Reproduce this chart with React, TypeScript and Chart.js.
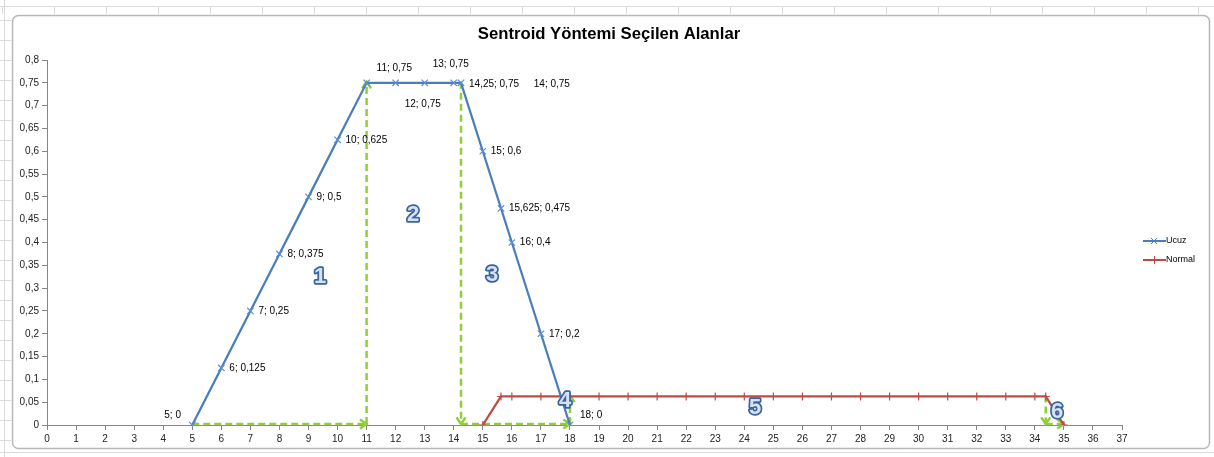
import React, { useEffect, useRef } from "react";
import { Chart, registerables } from "chart.js";

Chart.register(...registerables);

// ---- data ----
const chartTitle = "Sentroid Yöntemi Seçilen Alanlar";
const seriesNames = ["Ucuz", "Normal"];

const ucuzX = [5, 6, 7, 8, 9, 10, 11, 12, 13, 14, 14.25, 15, 15.625, 16, 17, 18];
const ucuzY = [0, 0.125, 0.25, 0.375, 0.5, 0.625, 0.75, 0.75, 0.75, 0.75, 0.75, 0.6, 0.475, 0.4, 0.2, 0];

const normalX = [15, 15.625, 16, 17, 18, 19, 20, 21, 22, 23, 24, 25, 26, 27, 28, 29, 30, 31, 32, 33, 34, 34.375, 35];
const normalY = [0, 0.0625, 0.0625, 0.0625, 0.0625, 0.0625, 0.0625, 0.0625, 0.0625, 0.0625, 0.0625, 0.0625, 0.0625, 0.0625, 0.0625, 0.0625, 0.0625, 0.0625, 0.0625, 0.0625, 0.0625, 0.0625, 0];

const xMin = 0;
const xMax = 37;
const xStep = 1;
const yMin = 0;
const yMax = 0.8;
const yStep = 0.05;

// area arrows: [fromX, fromY, toX, toY]
const areaArrows = [
  [5, 0, 11, 0],
  [11, 0, 11, 0.75],
  [14.25, 0.75, 14.25, 0],
  [14.25, 0, 18, 0],
  [18, 0, 18, 0.0625],
  [34.375, 0.0625, 34.375, 0],
  [34.375, 0, 35, 0],
];

// numbered areas: label, x, y (data units)
const areaNames = ["1", "2", "3", "4", "5", "6"];
const areaNameX = [9.4, 12.6, 15.32, 17.83, 24.37, 34.77];
const areaNameY = [0.325, 0.46, 0.33, 0.052, 0.037, 0.028];

// label placement (pixel offsets from point) for Ucuz data labels, by index
const labelOffsets: Record<number, [number, number]> = {
  0: [-28, -10],
  6: [10, -15],
  7: [9, 21],
  8: [8, -19],
  9: [80, 1],
  10: [8, 1],
  15: [10, -10],
};

const fmt = (v: number) => String(+v.toFixed(3)).replace(".", ",");

const BLUE = "#4A7EBB";
const RED = "#BE4B48";
const GREEN = "#8fcf3c";
const FONT = '"Liberation Sans", Arial, sans-serif';

function drawArrow(ctx: CanvasRenderingContext2D, x1: number, y1: number, x2: number, y2: number) {
  ctx.save();
  ctx.strokeStyle = GREEN;
  ctx.lineWidth = 2.5;
  ctx.setLineDash([7, 4]);
  ctx.beginPath();
  ctx.moveTo(x1, y1);
  ctx.lineTo(x2, y2);
  ctx.stroke();
  ctx.setLineDash([]);
  const a = Math.atan2(y2 - y1, x2 - x1);
  const s = 8;
  ctx.beginPath();
  ctx.moveTo(x2 - s * Math.cos(a - 0.6), y2 - s * Math.sin(a - 0.6));
  ctx.lineTo(x2, y2);
  ctx.lineTo(x2 - s * Math.cos(a + 0.6), y2 - s * Math.sin(a + 0.6));
  ctx.stroke();
  ctx.restore();
}

const decorPlugin = {
  id: "decor",
  beforeDraw(chart: any) {
    const ctx: CanvasRenderingContext2D = chart.ctx;
    const W = chart.width;
    const H = chart.height;
    ctx.save();
    ctx.fillStyle = "#ffffff";
    ctx.fillRect(0, 0, W, H);
    // spreadsheet cell lines outside the chart frame
    ctx.strokeStyle = "#dcdcdc";
    ctx.lineWidth = 1;
    ctx.beginPath();
    ctx.moveTo(0, 6.5);
    ctx.lineTo(W, 6.5);
    for (let x = 2; x < W; x += 52) {
      ctx.moveTo(x + 0.5, 6);
      ctx.lineTo(x + 0.5, 14);
    }
    ctx.moveTo(4.5, 0);
    ctx.lineTo(4.5, H);
    for (let y = 20; y < H; y += 20) {
      ctx.moveTo(0, y + 0.5);
      ctx.lineTo(11, y + 0.5);
    }
    ctx.moveTo(0, 452.5);
    ctx.lineTo(W, 452.5);
    ctx.stroke();
    // chart frame
    ctx.strokeStyle = "#b8b8b8";
    ctx.lineWidth = 1.5;
    const x0 = 12.5, y0 = 15.5, x1 = 1209.5, y1 = 448.5, r = 6;
    ctx.beginPath();
    ctx.moveTo(x0 + r, y0);
    ctx.lineTo(x1 - r, y0);
    ctx.arcTo(x1, y0, x1, y0 + r, r);
    ctx.lineTo(x1, y1 - r);
    ctx.arcTo(x1, y1, x1 - r, y1, r);
    ctx.lineTo(x0 + r, y1);
    ctx.arcTo(x0, y1, x0, y1 - r, r);
    ctx.lineTo(x0, y0 + r);
    ctx.arcTo(x0, y0, x0 + r, y0, r);
    ctx.closePath();
    ctx.stroke();
    // title
    ctx.fillStyle = "#000";
    ctx.font = `bold 16.7px ${FONT}`;
    ctx.textAlign = "center";
    ctx.textBaseline = "middle";
    ctx.fillText(chartTitle, 609, 34);
    ctx.restore();
  },
  beforeDatasetsDraw(chart: any) {
    const ctx: CanvasRenderingContext2D = chart.ctx;
    const xs = chart.scales.x;
    const ys = chart.scales.y;
    areaArrows.forEach(([ax, ay, bx, by]) => {
      drawArrow(ctx, xs.getPixelForValue(ax), ys.getPixelForValue(ay) - 1, xs.getPixelForValue(bx), ys.getPixelForValue(by) - 1);
    });
  },
  afterDatasetsDraw(chart: any) {
    const ctx: CanvasRenderingContext2D = chart.ctx;
    const xs = chart.scales.x;
    const ys = chart.scales.y;
    ctx.save();
    // data labels for Ucuz
    const meta = chart.getDatasetMeta(0);
    ctx.font = `10px ${FONT}`;
    ctx.fillStyle = "#000";
    ctx.textAlign = "left";
    ctx.textBaseline = "middle";
    meta.data.forEach((pt: any, i: number) => {
      const off = labelOffsets[i] || [8, 0];
      ctx.fillText(`${fmt(ucuzX[i])}; ${fmt(ucuzY[i])}`, pt.x + off[0], pt.y + off[1]);
    });
    // numbered areas
    ctx.font = `bold 22px ${FONT}`;
    ctx.textAlign = "center";
    ctx.lineJoin = "round";
    areaNames.forEach((t, i) => {
      const px = xs.getPixelForValue(areaNameX[i]);
      const py = ys.getPixelForValue(areaNameY[i]);
      ctx.lineWidth = 3.5;
      ctx.strokeStyle = "#3a64a0";
      ctx.strokeText(t, px, py);
      ctx.fillStyle = "#d6e2f2";
      ctx.fillText(t, px, py);
    });
    // legend
    const colors = [BLUE, RED];
    ctx.font = `9px ${FONT}`;
    ctx.textAlign = "left";
    seriesNames.forEach((name, i) => {
      const ly = 241 + i * 19;
      ctx.strokeStyle = colors[i];
      ctx.lineWidth = 2;
      ctx.beginPath();
      ctx.moveTo(1143, ly);
      ctx.lineTo(1166, ly);
      ctx.stroke();
      ctx.lineWidth = 1;
      ctx.beginPath();
      if (i === 0) {
        ctx.moveTo(1151, ly - 3); ctx.lineTo(1157, ly + 3);
        ctx.moveTo(1157, ly - 3); ctx.lineTo(1151, ly + 3);
      } else {
        ctx.moveTo(1154.5, ly - 4); ctx.lineTo(1154.5, ly + 4);
      }
      ctx.stroke();
      ctx.fillStyle = "#000";
      ctx.fillText(name, 1166, ly);
    });
    ctx.restore();
  },
};

export default function App() {
  const ref = useRef<HTMLCanvasElement>(null);
  useEffect(() => {
    const chart = new Chart(ref.current as HTMLCanvasElement, {
      type: "scatter",
      data: {
        datasets: [
          {
            label: seriesNames[0],
            data: ucuzX.map((x, i) => ({ x, y: ucuzY[i] })),
            showLine: true,
            borderColor: BLUE,
            backgroundColor: BLUE,
            borderWidth: 2.25,
            pointStyle: "crossRot",
            pointRadius: 4.5,
            pointBorderWidth: 1.2,
            pointBorderColor: "#5b8fd0",
            tension: 0,
          },
          {
            label: seriesNames[1],
            data: normalX.map((x, i) => ({ x, y: normalY[i] })),
            showLine: true,
            borderColor: RED,
            backgroundColor: RED,
            borderWidth: 2.25,
            pointStyle: "cross",
            pointRadius: 4,
            pointBorderWidth: 1.2,
            tension: 0,
          },
        ],
      },
      options: {
        responsive: false,
        animation: false,
        events: [],
        layout: { padding: { left: 12, top: 60, right: 92, bottom: 12 } },
        plugins: {
          legend: { display: false },
          title: { display: false },
          tooltip: { enabled: false },
        },
        scales: {
          x: {
            type: "linear",
            min: xMin,
            max: xMax,
            ticks: {
              stepSize: xStep,
              autoSkip: false,
              maxRotation: 0,
              maxTicksLimit: 100,
              padding: 3,
              color: "#222",
              font: { family: FONT, size: 10 },
              callback: (v: any) => fmt(Number(v)),
            },
            grid: { drawOnChartArea: false, tickLength: 5, color: "#868686" },
            border: { color: "#868686", width: 1 },
            afterFit: (s: any) => {
              s.height = 20;
            },
          },
          y: {
            type: "linear",
            min: yMin,
            max: yMax,
            ticks: {
              stepSize: yStep,
              autoSkip: false,
              maxTicksLimit: 100,
              padding: 3,
              color: "#222",
              font: { family: FONT, size: 10 },
              callback: (v: any) => fmt(Number(v)),
            },
            grid: { drawOnChartArea: false, tickLength: 5, color: "#868686" },
            border: { color: "#868686", width: 1 },
            afterFit: (s: any) => {
              s.width = 35;
            },
          },
        },
      },
      plugins: [decorPlugin],
    } as any);
    return () => chart.destroy();
  }, []);
  return (
    <div style={{ position: "fixed", left: 0, top: 0, width: 1214, height: 457 }}>
      <canvas ref={ref} width={1214} height={457} style={{ display: "block" }} />
    </div>
  );
}
